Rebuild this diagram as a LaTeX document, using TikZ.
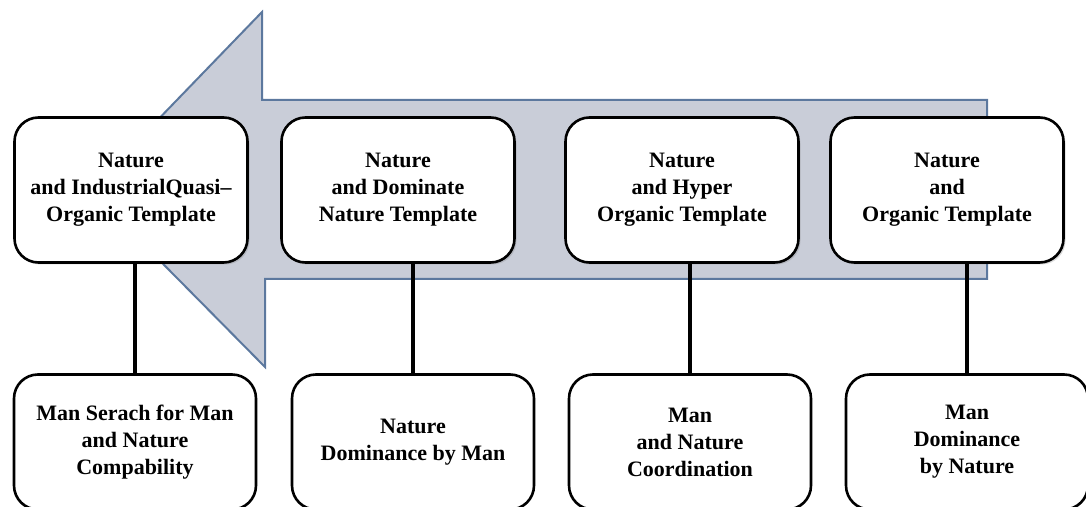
\documentclass[tikz,border=0pt]{standalone}
\usepackage{fontspec}
\setmainfont{Liberation Serif}
\usetikzlibrary{shadows}

\definecolor{arrowfill}{RGB}{201,205,216}
\definecolor{arrowedge}{RGB}{92,120,158}

\begin{document}
\begin{tikzpicture}[x=0.5pt,y=-0.5pt,
	templatebox/.style={draw, line width=1.3pt, rounded corners=12pt, fill=white, align=center,
		font=\bfseries\fontsize{11}{13.5}\selectfont, minimum width=116.5pt, minimum height=72.5pt,
		drop shadow={opacity=0.3, shadow xshift=1pt, shadow yshift=-1pt}},
	relationbox/.style={draw, line width=1.3pt, rounded corners=12pt, fill=white, align=center,
		font=\bfseries\fontsize{11}{13.5}\selectfont, minimum width=121pt, minimum height=67.5pt},
	link/.style={line width=2pt}]
	% Frame
	\useasboundingbox (0,0) rectangle (1086,507);
	\clip (0,0) rectangle (1086,507);
	
	% Big arrow
	\draw[arrowedge, fill=arrowfill, line width=1pt]
		(90,190) -- (262,12) -- (262,100) -- (987,100) -- (987,279) -- (265,279) -- (265,367) -- cycle;
	
	% Bottom boxes
	\foreach \n/\x/\txt in {1/135/{Man Serach for Man\\and Nature\\Compability},
		2/413/{Nature\\Dominance by Man},
		3/690/{Man\\and Nature\\Coordination},
		4/967/{Man\\Dominance\\by Nature}} {
		\node[relationbox] (b\n) at (\x,442) {\txt};
	}
	
	% Top boxes
	\foreach \n/\x/\txt in {1/131/{Nature\\and IndustrialQuasi--\\Organic Template},
		2/398/{Nature\\and Dominate\\Nature Template},
		3/682/{Nature\\and Hyper\\Organic Template},
		4/947/{Nature\\and\\Organic Template}} {
		\node[templatebox] (t\n) at (\x,190) {\txt};
	}
	
	% Links
	\foreach \n in {1,2,3,4} {
		\draw[link] (b\n.north) -- (b\n.north |- t\n.south);
	}
\end{tikzpicture}
\end{document}
